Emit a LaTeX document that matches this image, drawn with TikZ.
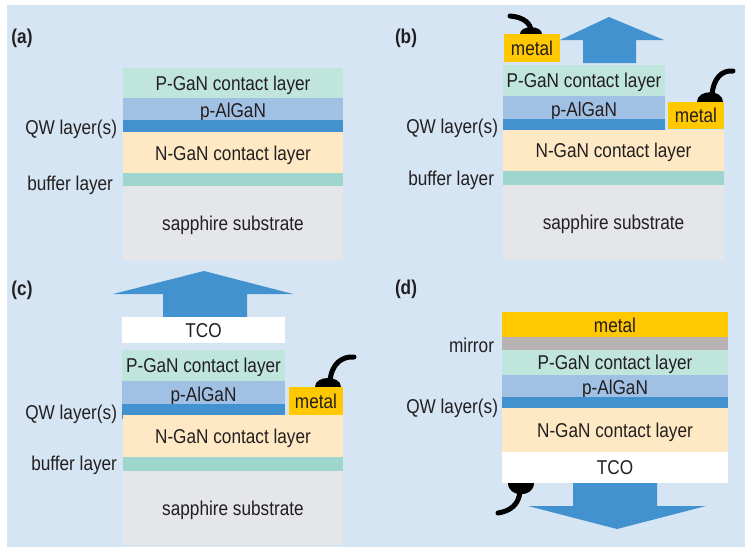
\documentclass[tikz,border=0pt]{standalone}
\usepackage{fontspec}
\setmainfont{Liberation Sans}[FakeStretch=0.86]

\definecolor{bgblue}{RGB}{213,229,244}
\definecolor{pgan}{RGB}{191,229,220}
\definecolor{algan}{RGB}{160,192,228}
\definecolor{qw}{RGB}{66,146,208}
\definecolor{ngan}{RGB}{255,233,197}
\definecolor{buffer}{RGB}{158,214,206}
\definecolor{sapphire}{RGB}{228,230,233}
\definecolor{metal}{RGB}{255,200,0}
\definecolor{mirror}{RGB}{184,178,178}
\definecolor{beamblue}{RGB}{66,146,208}
\definecolor{ink}{RGB}{35,31,32}

% one rectangular layer of the stack: name, x1, y1, x2, y2, fill, text
\newcommand\slab[7]{%
  \node[layer, fill=#6, minimum width={(#4-#2)*1pt}, minimum height={(#5-#3)*1pt}]
    (#1) at ({(#2+#4)/2},{(#3+#5)/2}) {#7};}
% contact blob: centre x, base y, half width, height (negative = downward)
\newcommand\blob[4]{%
  \fill[black] ({#1-#3},#2) .. controls ({#1-#3},{#2-1.33*#4}) and ({#1+#3},{#2-1.33*#4}) .. ({#1+#3},#2) -- cycle;}

\begin{document}
\begin{tikzpicture}[x=1pt,y=-1pt,
  txt/.style={font=\fontsize{20}{24}\selectfont, text=ink, inner sep=0pt, outer sep=0pt,
              text height=14.3pt, text depth=0pt},
  layer/.style={txt, rectangle, draw=none},
  tag/.style={txt, font=\fontsize{20}{24}\selectfont\bfseries},
  side/.style={txt, anchor=east},
  wire/.style={line width=5pt, line cap=round, draw=black},
  beam/.style={fill=beamblue}]

\useasboundingbox (0,0) rectangle (745,547);
\fill[bgblue] (7,5) rectangle (745,547);

% ---------------- (a) basic stack ----------------
\node[tag] (tagA) at (22,36) {(a)};
\slab{aP}{123}{68}{343}{98}{pgan}{P-GaN contact layer}
\slab{aAl}{123}{98}{343}{122}{algan}{p-AlGaN}
\slab{aQW}{123}{122}{343}{132}{qw}{}
\slab{aN}{123}{132}{343}{175}{ngan}{N-GaN contact layer}
\slab{aBuf}{123}{175}{343}{186}{buffer}{}
\slab{aSub}{123}{186}{343}{261}{sapphire}{sapphire substrate}
\node[side] (aQWl) at (117,127) {QW layer(s)};
\node[side] (aBufl) at (113,183) {buffer layer};

% ---------------- (b) top contacts ----------------
\node[tag] (tagB) at (406,36) {(b)};
\fill[beam] (583,63) -- (583,40) -- (560,40) -- (609,17) -- (664,40) -- (636,40) -- (636,63) -- cycle;
\slab{bMetL}{504}{34}{560}{62}{metal}{metal}
\slab{bP}{503}{65}{665}{96}{pgan}{P-GaN contact layer}
\slab{bAl}{503}{96}{665}{122}{algan}{p-AlGaN}
\slab{bQW}{503}{122}{665}{130}{qw}{}
\slab{bMetR}{668}{102}{724}{129}{metal}{metal}
\slab{bN}{503}{130}{724}{171}{ngan}{N-GaN contact layer}
\slab{bBuf}{503}{171}{724}{185}{buffer}{}
\slab{bSub}{503}{185}{724}{260}{sapphire}{sapphire substrate}
\node[side] (bQWl) at (498,126) {QW layer(s)};
\node[side] (bBufl) at (494,178) {buffer layer};
\coordinate (bWireL) at (510,16);
\coordinate (bWireR) at (733,71);
\blob{531}{34}{11}{7}
\draw[wire] (bWireL) .. controls (524,17) and (531,24) .. ([xshift=-1pt,yshift=3pt]bMetL.north);
\blob{710}{102}{13}{10}
\draw[wire] (bWireR) .. controls (722,70) and (713,78) .. ([xshift=16pt,yshift=6pt]bMetR.north);

% ---------------- (c) transparent top contact ----------------
\node[tag] (tagC) at (22,288) {(c)};
\fill[beam] (163,317) -- (163,294) -- (113,294) -- (204,271) -- (293,294) -- (247,294) -- (247,317) -- cycle;
\slab{cTCO}{122}{317}{285}{343}{white}{TCO}
\slab{cP}{122}{350}{285}{381}{pgan}{P-GaN contact layer}
\slab{cAl}{122}{381}{285}{408}{algan}{p-AlGaN}
\slab{cQW}{122}{408}{285}{415}{qw}{}
\slab{cMet}{289}{387}{343}{415}{metal}{metal}
\slab{cN}{123}{415}{343}{457}{ngan}{N-GaN contact layer}
\slab{cBuf}{123}{457}{343}{471}{buffer}{}
\slab{cSub}{123}{471}{343}{545}{sapphire}{sapphire substrate}
\node[side] (cQWl) at (117,412) {QW layer(s)};
\node[side] (cBufl) at (117,463) {buffer layer};
\coordinate (cWire) at (354,357);
\blob{328}{387}{13}{9}
\draw[wire] (cWire) .. controls (342,356) and (331,364) .. ([xshift=41pt,yshift=5pt]cMet.north west);

% ---------------- (d) flip-chip with mirror ----------------
\node[tag] (tagD) at (406,287) {(d)};
\slab{dMet}{502}{312}{728}{338}{metal}{metal}
\slab{dMir}{502}{338}{728}{350}{mirror}{}
\slab{dP}{502}{350}{728}{375}{pgan}{P-GaN contact layer}
\slab{dAl}{502}{375}{728}{400}{algan}{p-AlGaN}
\slab{dQW}{502}{400}{728}{408}{qw}{}
\slab{dN}{502}{408}{728}{452}{ngan}{N-GaN contact layer}
\slab{dTCO}{502}{452}{728}{483}{white}{TCO}
\fill[beam] (573,483) -- (573,506) -- (528,506) -- (617,529) -- (706,506) -- (657,506) -- (657,483) -- cycle;
\node[side] (dMirl) at (494,345) {mirror};
\node[side] (dQWl) at (498,406) {QW layer(s)};
\coordinate (dWire) at (498,513);
\blob{521}{483}{13}{-11}
\draw[wire] ([xshift=18pt,yshift=-8pt]dTCO.south west) .. controls (519,505) and (510,511) .. (dWire);

\end{tikzpicture}
\end{document}
